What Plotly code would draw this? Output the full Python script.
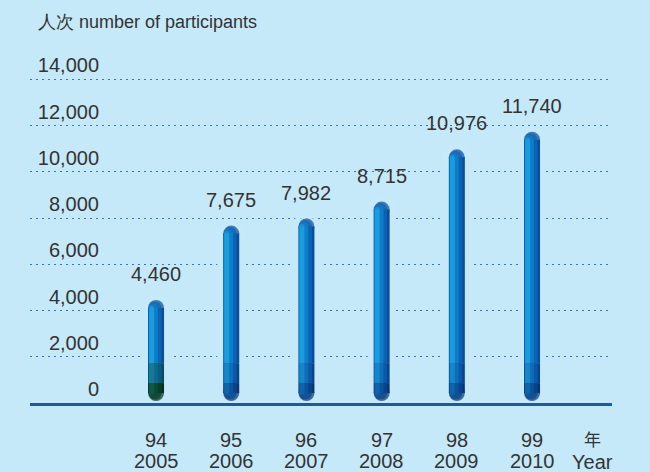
import plotly.graph_objects as go

# ---- data ----
roc_years = ["94", "95", "96", "97", "98", "99"]
years = ["2005", "2006", "2007", "2008", "2009", "2010"]
participants = [4460, 7675, 7982, 8715, 10976, 11740]
y_ticks = [0, 2000, 4000, 6000, 8000, 10000, 12000, 14000]
y_tick_labels = ["0", "2,000", "4,000", "6,000", "8,000", "10,000", "12,000", "14,000"]
title_text = "人次 number of participants"
unit_zh = "年"
unit_en = "Year"

BG = "#c6e9f9"
FONT = "Liberation Sans, Arial, sans-serif"
TXT = "#333333"

W, H = 650, 472
ML, MR, MT, MB = 30, 38, 78, 69
plot_w = W - ML - MR
plot_h = H - MT - MB
y_max = 14000
u_per_px = y_max / plot_h
x0 = -1.676
x1 = x0 + plot_w / 75.2
xu_per_px = (x1 - x0) / plot_w

n = len(participants)
xs = list(range(n))

fig = go.Figure()


def pill_segment(xc, y_lo, y_hi, width_px, color, cap_lo=False, cap_hi=False):
    """Vertical thick line between y_lo and y_hi, optional round caps."""
    xx, yy, ss = [], [], []
    for x, a, b in zip(xc, y_lo, y_hi):
        xx += [x, x, None]
        yy += [a, b, None]
        ss += [width_px if cap_lo else 0, width_px if cap_hi else 0, 0]
    fig.add_trace(go.Scatter(
        x=xx, y=yy, mode="lines+markers",
        line=dict(color=color, width=width_px),
        marker=dict(color=color, size=ss, symbol="circle", line=dict(width=0)),
        hoverinfo="skip", showlegend=False, connectgaps=False))


BW = 16                      # bar width, px
R = BW / 2
bottom_gap = 2 * u_per_px    # bar bottom sits just above the axis line
seg_low = 20 * u_per_px
seg_mid = 40 * u_per_px

# halo (interrupts the dotted gridlines around each bar)
pill_segment(xs, [0] * n, [v - R * u_per_px for v in participants], 28, BG, cap_hi=True)

# layers: (width px, left inset px, top, mid, low colours)
layers = [
    (16, 0.0, "#0a4d9a", "#09438c", "#073674"),
    (13, 0.5, "#0c63b3", "#0b58a6", "#09448a"),
    (9, 0.8, "#0f7ec9", "#0e6eb9", "#0c539a"),
    (5, 1.0, "#189ddf", "#1486ca", "#0f64aa"),
]
first_mid = ["#0a4a6a", "#0c5a7c", "#0f6a8c", "#147a9a"]
first_low = ["#06301f", "#093c2a", "#0d4a36", "#125844"]

for li, (wpx, inset, ctop, cmid, clow) in enumerate(layers):
    r = wpx / 2
    dx = (-R + inset + r) * xu_per_px
    xc = [x + dx for x in xs]
    top_c = [v - R * u_per_px for v in participants]
    bot_c = bottom_gap + R * u_per_px
    pill_segment(xc, [seg_mid] * n, top_c, wpx, ctop, cap_hi=True)
    pill_segment(xc[:1], [seg_low], [seg_mid], wpx, first_mid[li])
    pill_segment(xc[1:], [seg_low] * (n - 1), [seg_mid] * (n - 1), wpx, cmid)
    pill_segment(xc[:1], [bot_c], [seg_low], wpx, first_low[li], cap_lo=True)
    pill_segment(xc[1:], [bot_c] * (n - 1), [seg_low] * (n - 1), wpx, clow, cap_lo=True)

# value labels
for i, v in enumerate(participants):
    fig.add_annotation(x=i, y=v, text=f"{v:,}", showarrow=False, yshift=26,
                       font=dict(family=FONT, size=20, color=TXT))

# category labels (two rows)
for i in xs:
    fig.add_annotation(x=i, xref="x", y=0, yref="paper", yanchor="middle",
                       yshift=-37, text=roc_years[i], showarrow=False,
                       font=dict(family=FONT, size=20, color=TXT))
    fig.add_annotation(x=i, xref="x", y=0, yref="paper", yanchor="middle",
                       yshift=-58, text=years[i], showarrow=False,
                       font=dict(family=FONT, size=20, color=TXT))
fig.add_annotation(x=n - 0.2, xref="x", y=0, yref="paper", yanchor="middle",
                   yshift=-35, text=unit_zh, showarrow=False,
                   font=dict(family="Noto Sans CJK TC, sans-serif", size=17, color=TXT))
fig.add_annotation(x=n - 0.2, xref="x", y=0, yref="paper", yanchor="middle",
                   yshift=-59, text=unit_en, showarrow=False,
                   font=dict(family=FONT, size=20, color=TXT))

# title
fig.add_annotation(xref="paper", yref="paper", x=(36 - ML) / plot_w, y=1,
                   xanchor="left", yanchor="middle", yshift=MT - 22,
                   text=title_text, showarrow=False,
                   font=dict(family=FONT, size=18, color=TXT))

fig.update_layout(
    width=W, height=H,
    margin=dict(l=ML, r=MR, t=MT, b=MB, autoexpand=False),
    paper_bgcolor=BG, plot_bgcolor=BG,
    showlegend=False,
    xaxis=dict(
        range=[x0, x1],
        showgrid=False, zeroline=False, showticklabels=False,
        showline=True, linecolor="#1a5c9c", linewidth=2.5,
        ticks="", automargin=False, fixedrange=True,
    ),
    yaxis=dict(
        range=[0, y_max + 1.5 * u_per_px],
        tickmode="array", tickvals=y_ticks, ticktext=y_tick_labels,
        showgrid=True, gridcolor="#2f78c0", gridwidth=1, griddash="2px,4px",
        zeroline=False, showline=False, ticks="",
        ticklabelstandoff=-70, ticklabelshift=-14, automargin=False,
        tickfont=dict(family=FONT, size=20, color=TXT),
        fixedrange=True,
    ),
)

fig.write_html(
    "out.html",
    config={"displayModeBar": False, "staticPlot": True},
    post_script="document.body.style.margin='0';document.body.style.background='" + BG + "';",
)
